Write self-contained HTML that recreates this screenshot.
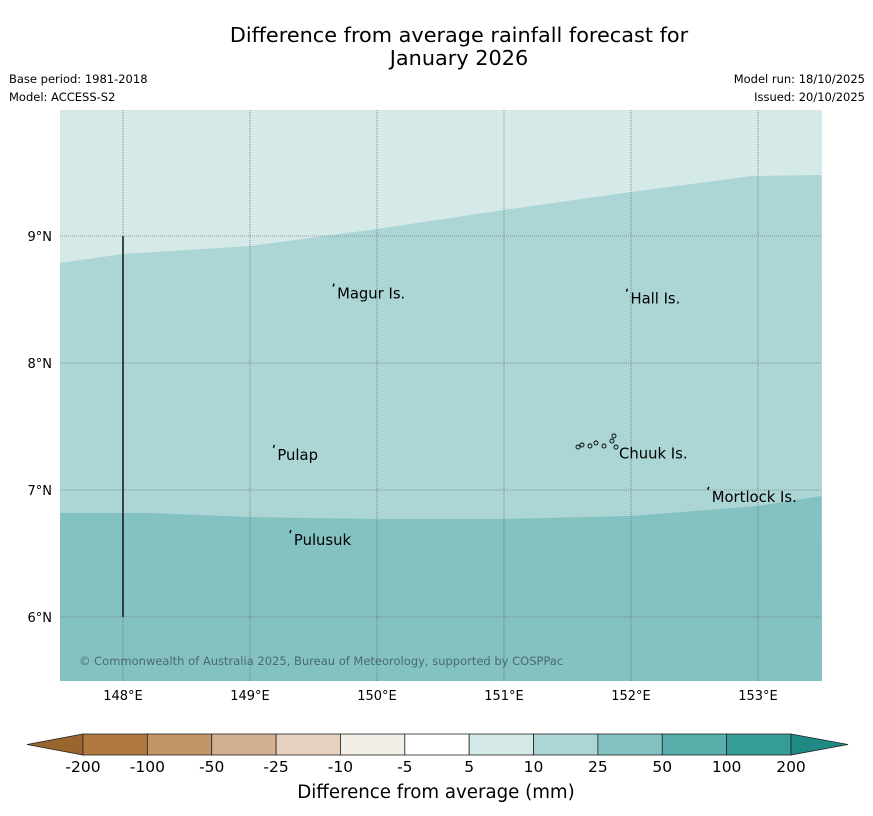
<!DOCTYPE html>
<html><head><meta charset="utf-8"><style>
body{margin:0;background:#fff;font-family:"DejaVu Sans","Liberation Sans",sans-serif;}
svg{display:block}
</style></head><body>
<svg id="s" width="873" height="816" xmlns="http://www.w3.org/2000/svg">
<text x="459" y="42" font-size="20.8" text-anchor="middle">Difference from average rainfall forecast for</text>
<text x="459" y="65" font-size="20.8" text-anchor="middle">January 2026</text>
<text x="9" y="83" font-size="11.5">Base period: 1981-2018</text>
<text x="9" y="101" font-size="11.5">Model: ACCESS-S2</text>
<text x="865" y="83" font-size="11.5" text-anchor="end">Model run: 18/10/2025</text>
<text x="865" y="101" font-size="11.5" text-anchor="end">Issued: 20/10/2025</text>
<g id="map"></g>
<g id="cb"></g>
<text x="436" y="798" font-size="18.2" text-anchor="middle">Difference from average (mm)</text>
</svg>
<script>
const NS="http://www.w3.org/2000/svg";
const lonTicks=[148,149,150,151,152,153];
const latTicks=[9,8,7,6];
const b1Lon=[147.5,148,149,150,151,152,152.95,153.5];
const b1Lat=[8.787,8.858,8.921,9.055,9.205,9.346,9.472,9.48];
const b2Lon=[147.5,148.2,149,150,151,152,153,153.5];
const b2Lat=[6.819,6.819,6.787,6.772,6.772,6.795,6.874,6.953];
const places=["Magur Is.","Hall Is.","Pulap","Chuuk Is.","Mortlock Is.","Pulusuk"];
const placeLon=[149.67,151.98,149.2,151.89,152.62,149.33];
const placeLat=[8.57,8.53,7.30,7.31,6.97,6.63];
const cbLabels=["-200","-100","-50","-25","-10","-5","5","10","25","50","100","200"];
const cbColors=["#b07a3e","#c3966a","#d3b190","#e5d1bd","#f1ede7","#ffffff","#d5e9e8","#acd5d5","#84c2c1","#58aeab","#359c98"];
const X=lon=>123+(lon-148)*127, Y=lat=>236+(9-lat)*127;
const L=60,R=822,T=110,B=681;
function el(t,a,p){const e=document.createElementNS(NS,t);for(const k in a)e.setAttribute(k,a[k]);p.appendChild(e);return e;}
const m=document.getElementById('map');
const clip=el('clipPath',{id:'c'},m);el('rect',{x:L,y:T,width:R-L,height:B-T},clip);
const g=el('g',{'clip-path':'url(#c)'},m);
let r=el('rect',{x:L,y:T,width:R-L,height:B-T,fill:'#d5e9e8'},g);

let p1=b1Lon.map((v,i)=>X(v)+','+Y(b1Lat[i])).join(' ');
let p=el('polygon',{points:p1+' '+R+','+B+' '+L+','+B,fill:'#acd5d5'},g);

let p2=b2Lon.map((v,i)=>X(v)+','+Y(b2Lat[i])).join(' ');
p=el('polygon',{points:p2+' '+R+','+B+' '+L+','+B,fill:'#84c2c1'},g);

lonTicks.forEach(v=>{const x=X(v);
 let l=el('line',{x1:x,x2:x,y1:T,y2:B,stroke:'#555','stroke-width':0.6,'stroke-dasharray':'1,1'},g);
 
 let t=el('text',{x:x,y:700,'font-size':13,'text-anchor':'middle'},m);t.textContent=v+'°E';
 });
latTicks.forEach(v=>{const y=Y(v);
 let l=el('line',{x1:L,x2:R,y1:y,y2:y,stroke:'#555','stroke-width':0.6,'stroke-dasharray':'1,1'},g);
 
 let t=el('text',{x:52,y:y+5,'font-size':13,'text-anchor':'end'},m);t.textContent=v+'°N';
 });
let vl=el('line',{x1:X(148),x2:X(148),y1:Y(9),y2:Y(6),stroke:'#111','stroke-width':1.5},m);

places.forEach((n,i)=>{const x=X(placeLon[i]),y=Y(placeLat[i]);
 if(n!=="Chuuk Is."){let mk=el('path',{d:`M${x-2},${y-4} l1,-3`,stroke:'#000','stroke-width':1.4,fill:'none'},m);
 }
 let t=el('text',{x:x+2,y:y+8,'font-size':14.8},m);t.textContent=n;
 });
[[578,447],[582,445],[590,446],[596,443],[604,446],[612,441],[614,436],[616,447]].forEach(q=>{
 let c=el('circle',{cx:q[0],cy:q[1],r:2,fill:'none',stroke:'#000','stroke-width':0.9},m);
 });
let cp=el('text',{x:79,y:665,'font-size':11.5,fill:'#4a6a6a'},m);cp.textContent='© Commonwealth of Australia 2025, Bureau of Meteorology, supported by COSPPac';

const cb=document.getElementById('cb');
const x0=83,w=(791-83)/cbColors.length,y0=734,h=21;
let lt=el('polygon',{points:`27,${y0+h/2} ${x0},${y0} ${x0},${y0+h}`,fill:'#9b6530',stroke:'#222','stroke-width':0.8},cb);

cbColors.forEach((c,i)=>{let rr=el('rect',{x:x0+i*w,y:y0,width:w,height:h,fill:c,stroke:'#222','stroke-width':0.8},cb);
 });
let rt=el('polygon',{points:`791,${y0} 848,${y0+h/2} 791,${y0+h}`,fill:'#1f8a84',stroke:'#222','stroke-width':0.8},cb);

cbLabels.forEach((s,i)=>{let t=el('text',{x:x0+i*w,y:772,'font-size':15.5,'text-anchor':'middle'},cb);t.textContent=s;
 });
</script>
</body></html>
